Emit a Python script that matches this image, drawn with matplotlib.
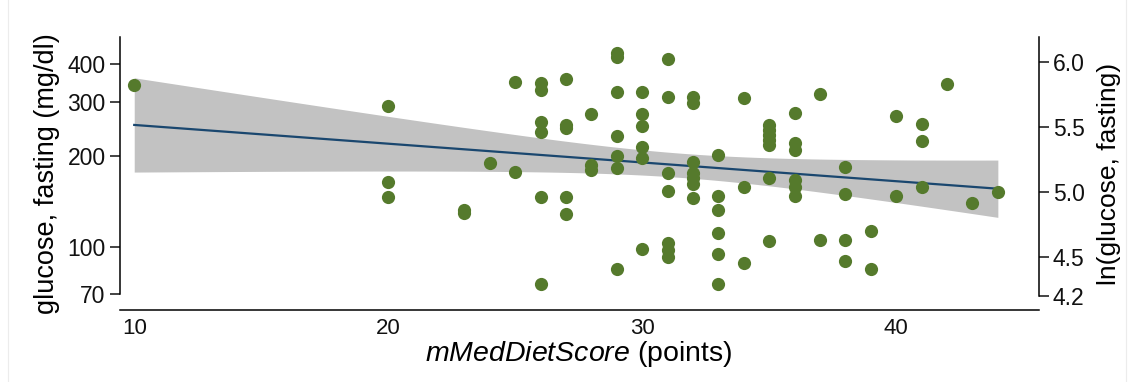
import numpy as np
import matplotlib
matplotlib.use("Agg")
import matplotlib.pyplot as plt
from matplotlib.patches import Rectangle

# mMedDietScore (points) and fasting glucose (mg/dl)
score = [10,
         20, 20, 20,
         23, 23,
         24,
         25, 25,
         26, 26, 26, 26, 26, 26,
         27, 27, 27, 27, 27,
         28, 28, 28,
         29, 29, 29, 29, 29, 29, 29,
         30, 30, 30, 30, 30, 30,
         31, 31, 31, 31, 31, 31, 31,
         32, 32, 32, 32, 32, 32, 32,
         33, 33, 33, 33, 33, 33,
         34, 34, 34,
         35, 35, 35, 35, 35, 35, 35,
         36, 36, 36, 36, 36, 36,
         37, 37,
         38, 38, 38, 38,
         39, 39,
         40, 40,
         41, 41, 41,
         42, 43, 44]
glucose = [342,
           292, 164, 146,
           133, 130,
           190,
           351, 177,
           346, 329, 259, 240, 146, 76,
           359, 253, 246, 146, 129,
           275, 187, 180,
           435, 422, 325, 232, 199, 182, 85,
           325, 275, 251, 213, 196, 99,
           415, 313, 176, 153, 103, 98, 93,
           313, 298, 191, 175, 169, 162, 145,
           201, 147, 133, 111, 95, 76,
           309, 158, 89,
           253, 243, 234, 225, 217, 169, 105,
           276, 220, 209, 166, 158, 147,
           319, 106,
           184, 150, 106, 90,
           113, 85,
           270, 148,
           255, 224, 158,
           344, 140, 152]

left_ticks = [70, 100, 200, 300, 400]
right_ticks = [4.2, 4.5, 5.0, 5.5, 6.0]
x_ticks = [10, 20, 30, 40]

green = "#557a2c"
navy = "#1a476f"

plt.rcParams['font.family'] = ['Liberation Sans', 'DejaVu Sans']
plt.rcParams['mathtext.fontset'] = 'custom'
plt.rcParams['mathtext.rm'] = 'Liberation Sans'
plt.rcParams['mathtext.it'] = 'Liberation Sans:italic'

x = np.array(score, dtype=float)
y = np.log(np.array(glucose, dtype=float))

# linear fit of ln(glucose) on score with 95% CI of the mean
n = len(x)
b, a = np.polyfit(x, y, 1)
resid = y - (a + b * x)
s = np.sqrt(np.sum(resid ** 2) / (n - 2))
xg = np.linspace(x.min(), x.max(), 200)
se = s * np.sqrt(1 / n + (xg - x.mean()) ** 2 / np.sum((x - x.mean()) ** 2))
fit = a + b * xg
t = 1.985

fig = plt.figure(figsize=(11.34, 3.82), dpi=100)
fig.patches.append(Rectangle((8 / 1134, -0.1), 1118 / 1134, 1.2, transform=fig.transFigure,
                             fill=False, edgecolor="#ececec", lw=0.8))
ax = fig.add_axes([119.5 / 1134, 1 - 310 / 382, (1039 - 119.5) / 1134, (310 - 37) / 382])

ax.fill_between(xg, fit - t * se, fit + t * se, color="#c2c2c2", lw=0, zorder=1)
ax.plot(xg, fit, color=navy, lw=1.6, zorder=2)
ax.plot(x, y, "o", color=green, ms=9.5, mec="none", zorder=3)

ax.set_xlim(9.42, 45.62)
ax.set_ylim(4.130, 6.198)
ax.set_xticks(x_ticks)
ax.set_xticklabels([str(v) for v in x_ticks], fontsize=16)
ax.tick_params(axis="x", length=0, pad=6, colors="#111111")
ax.set_yticks(np.log(left_ticks))
ax.set_yticklabels([str(v) for v in left_ticks], fontsize=16.5)
ax.tick_params(axis="y", length=7, width=1.1, pad=3, colors="#111111")

for side in ["top", "right"]:
    ax.spines[side].set_visible(False)
ax.spines["left"].set_bounds(np.log(70), 6.198)
ax.spines["left"].set_linewidth(1.1)
ax.spines["bottom"].set_linewidth(1.1)

ax.set_ylabel("glucose, fasting (mg/dl)", fontsize=19.5, labelpad=5)
ax.set_xlabel(r"$\it{mMedDietScore}$ (points)", fontsize=20.5, labelpad=0)

ax2 = ax.twinx()
ax2.set_ylim(4.09, 6.195)
ax2.set_yticks(right_ticks)
ax2.set_yticklabels(["%.1f" % v for v in right_ticks], fontsize=16.5)
ax2.tick_params(axis="y", length=7, width=1.1, pad=3, colors="#111111")
for side in ["top", "left", "bottom"]:
    ax2.spines[side].set_visible(False)
ax2.spines["right"].set_bounds(4.2, 6.195)
ax2.spines["right"].set_linewidth(1.1)
ax2.set_ylabel("ln(glucose, fasting)", fontsize=19, labelpad=9)

fig.savefig("out.png", dpi=100)
